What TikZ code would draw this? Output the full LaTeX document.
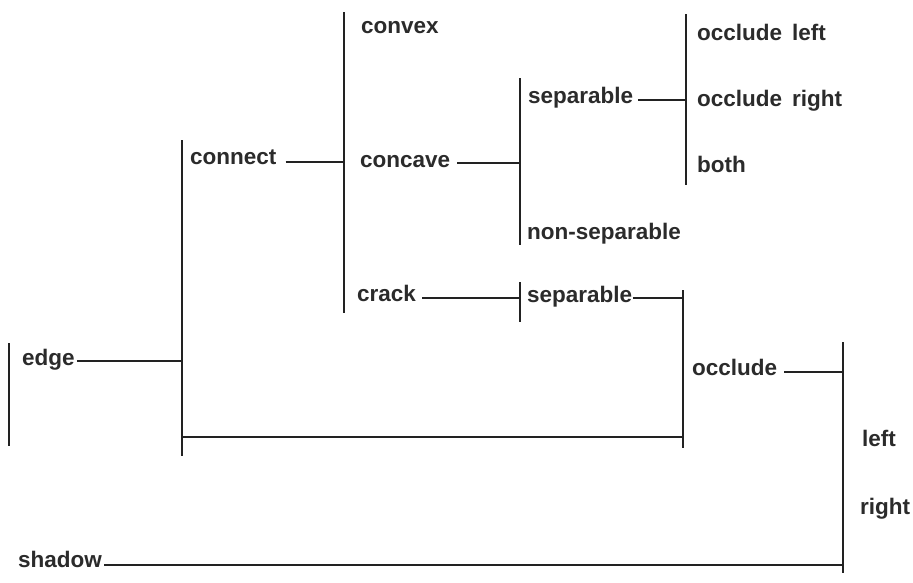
\documentclass[tikz,border=0pt]{standalone}
\usepackage{fontspec}
\newfontfamily\lbfont{Liberation Sans}[BoldFont={Liberation Sans Bold}]
\definecolor{ink}{HTML}{222222}
\definecolor{textink}{HTML}{2B2B2B}
\begin{document}
\begin{tikzpicture}[x=1pt,y=-1pt,
  lbl/.style={anchor=west,inner sep=0pt,text=textink,
    font=\lbfont\bfseries\fontsize{22.5}{26}\selectfont,
    text height=16pt,text depth=4.5pt},
  wire/.style={draw=ink,line width=1.5pt},
  bar/.style={draw=ink,line width=1.9pt}]
\useasboundingbox (0,0) rectangle (913,582);

% vertical bars (top and bottom end points)
\coordinate (b0t) at (9,343);   \coordinate (b0b) at (9,446);
\coordinate (b1t) at (182,140); \coordinate (b1b) at (182,456);
\coordinate (b2t) at (344,12);  \coordinate (b2b) at (344,313);
\coordinate (b3t) at (520,78);  \coordinate (b3b) at (520,245);
\coordinate (b4t) at (686,14);  \coordinate (b4b) at (686,185);
\coordinate (b5t) at (520,282); \coordinate (b5b) at (520,322);
\coordinate (b6t) at (683,290); \coordinate (b6b) at (683,448);
\coordinate (b7t) at (843,342); \coordinate (b7b) at (843,573);

\foreach \b in {b0,b1,b2,b3,b4,b5,b6,b7}
  \draw[bar] (\b t) -- (\b b);

% labels
\node[lbl] (edge)    at (22,360)  {edge};
\node[lbl] (connect) at (190,159) {connect};
\node[lbl] (convex)  at (361,28)  {convex};
\node[lbl] (concave) at (360,162) {concave};
\node[lbl] (crack)   at (357,296) {crack};
\node[lbl] (sepa)    at (528,98)  {separable};
\node[lbl] (nonsep)  at (527,234) {non-separable};
\node[lbl] (sepb)    at (527,297) {separable};
\node[lbl] (occl)    at (697,35)  {occlude\, left};
\node[lbl] (occr)    at (697,101) {occlude\, right};
\node[lbl] (both)    at (697,167) {both};
\node[lbl] (occlude) at (692,370) {occlude};
\node[lbl] (left)    at (862,441) {left};
\node[lbl] (right)   at (860,509) {right};
\node[lbl] (shadow)  at (18,562)  {shadow};

% connectors from labels to bars (set a little below the label centre)
\draw[wire] ([xshift=2pt,yshift=-1pt]edge.east)    -- ([yshift=-1pt]edge.east -| b1t);
\draw[wire] ([xshift=9pt,yshift=-3pt]connect.east) -- ([yshift=-3pt]connect.east -| b2t);
\draw[wire] ([xshift=7pt,yshift=-1pt]concave.east) -- ([yshift=-1pt]concave.east -| b3t);
\draw[wire] ([xshift=5pt,yshift=-2pt]sepa.east)    -- ([yshift=-2pt]sepa.east -| b4t);
\draw[wire] ([xshift=6pt,yshift=-2pt]crack.east)   -- ([yshift=-2pt]crack.east -| b5t);
\draw[wire] ([xshift=1pt,yshift=-1pt]sepb.east)    -- ([yshift=-1pt]sepb.east -| b6t);
\draw[wire] ([xshift=7pt,yshift=-2pt]occlude.east) -- ([yshift=-2pt]occlude.east -| b7t);
\draw[wire] ([xshift=2pt,yshift=-3pt]shadow.east)  -- ([yshift=-3pt]shadow.east -| b7t);

% join between the connect and occlude branches
\coordinate (j1) at (182,437);
\coordinate (j2) at (683,437);
\draw[wire] (j1) -- (j2);
\end{tikzpicture}
\end{document}
